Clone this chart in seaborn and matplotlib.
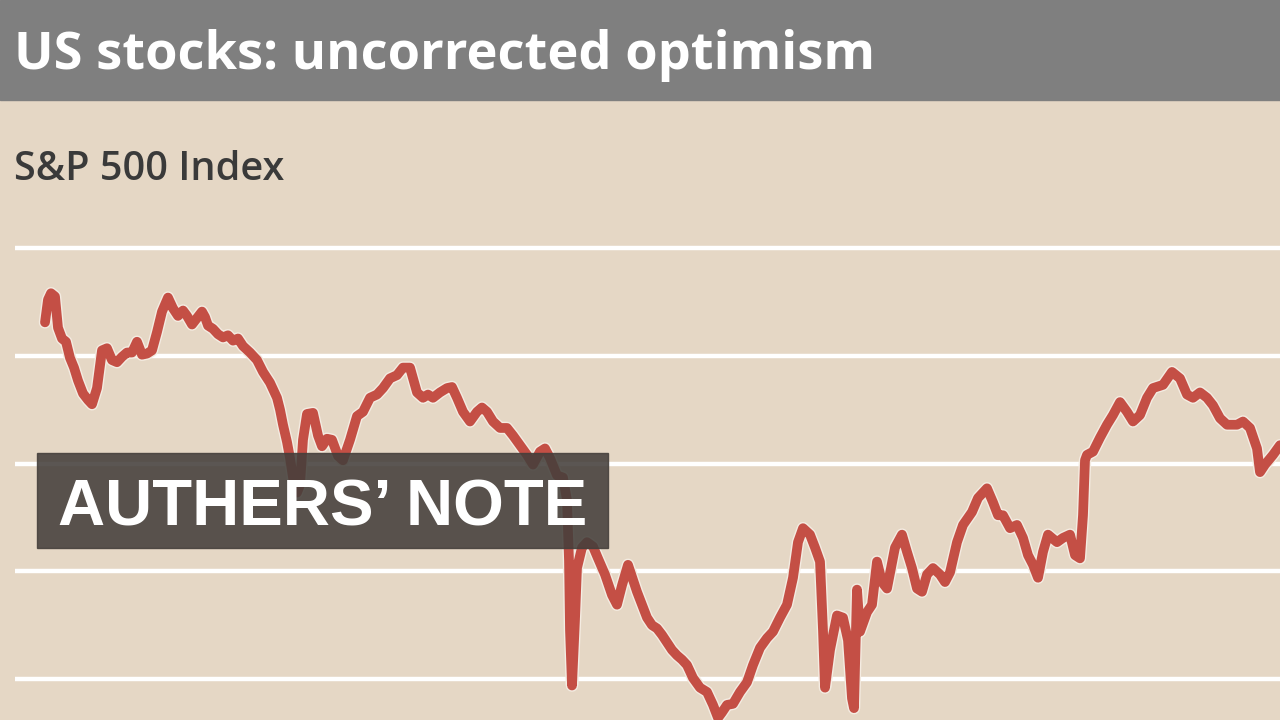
import matplotlib
matplotlib.use("Agg")
import matplotlib.pyplot as plt
import matplotlib.patheffects as pe
from matplotlib.patches import Rectangle
import seaborn as sns
import pandas as pd

# S&P 500 index level (trading-day offset, level)
days = [0, 1.2, 2.4, 4, 5.2, 6.8, 8.4, 10, 11.6, 13.2, 15.2, 17.2, 18.8, 20.8, 22.8,
        24.8, 26.8, 28.8, 30.8, 32.8, 34.8, 36.8, 38.8, 40.8, 42.8, 44.8, 46.8, 49.2,
        51.2, 53.2, 55.2, 56.8, 58.8, 60.8, 62.8, 64, 65.2, 67.2, 69.2, 71.2, 73.2,
        75.2, 77.2, 79.2, 82, 84.8, 87.2, 90, 92.8, 94, 95.2, 96.8, 98, 99.2, 100.8,
        102, 103.2, 104.8, 107.2, 109.2, 110.8, 112.8, 114.8, 117.2, 119.2, 122,
        124.8, 127.2, 130, 132.8, 135.2, 138, 140.8, 143.2, 146, 147.2, 148.8, 151.2,
        153.2, 155.2, 158, 160.8, 162.8, 164.8, 167.2, 170, 172.8, 174.8, 176.8,
        179.2, 182, 184.8, 187.2, 190, 192.8, 195.2, 198, 200, 202, 204.8, 207.2,
        208.8, 209.6, 210, 210.8, 212, 212.8, 214.8, 216.8, 219.2, 221.2, 224, 226.8,
        228.8, 230.8, 233.2, 235.2, 236.8, 238.8, 240.8, 242.8, 244.8, 246.8, 248.8,
        250.8, 252.8, 254.8, 256.8, 259.2, 262, 264.8, 267.2, 269.2, 270.8, 272.8,
        275.2, 278, 280.8, 283.2, 286, 288.8, 291.2, 294, 296.8, 299.2, 301.2, 303.2,
        306, 308, 310, 311.2, 312, 314, 316.8, 319.2, 321.2, 322.8, 323.6, 324.8, 326,
        328.8, 330.8, 332.8, 334.8, 336.8, 340, 342.8, 344.8, 346.8, 348.8, 350.8,
        352.8, 355.2, 358, 360, 362, 364.8, 367.2, 370.8, 373.2, 376.8, 379.2, 381.2,
        383.2, 386, 388.8, 391.2, 393.2, 395.2, 397.2, 399.2, 401.2, 404.8, 407.2,
        410, 412, 414, 415.2, 416, 416.8, 419.2, 422, 424.8, 427.2, 430, 432.8, 435.2,
        438, 440.8, 443.2, 447.2, 450.8, 454, 456.8, 459.2, 462, 464.8, 467.2, 470,
        472.8, 476.8, 479.2, 482, 484.8, 486, 488, 491.2, 494]

level = [2131, 2152, 2158, 2155, 2126, 2116, 2113, 2098, 2089, 2077, 2065, 2059, 2055,
         2070, 2105, 2107, 2096, 2094, 2099, 2103, 2103, 2113, 2101, 2102, 2105, 2122,
         2141, 2154, 2144, 2137, 2142, 2137, 2129, 2135, 2141, 2136, 2128, 2125, 2120,
         2117, 2119, 2114, 2116, 2109, 2103, 2096, 2085, 2075, 2061, 2050, 2036, 2020,
         2005, 1987, 1973, 1980, 2022, 2046, 2047, 2026, 2016, 2023, 2022, 2007, 2003,
         2022, 2044, 2048, 2061, 2064, 2070, 2079, 2082, 2089, 2089, 2079, 2066, 2061,
         2064, 2061, 2066, 2070, 2071, 2061, 2048, 2039, 2048, 2052, 2048, 2039, 2033,
         2033, 2026, 2017, 2008, 1999, 2011, 2014, 2005, 1989, 1987, 1966, 1910, 1845,
         1794, 1855, 1903, 1922, 1927, 1923, 1912, 1897, 1878, 1869, 1887, 1906, 1892,
         1881, 1869, 1857, 1850, 1847, 1841, 1834, 1827, 1822, 1818, 1813, 1801, 1792,
         1788, 1776, 1764, 1769, 1776, 1777, 1788, 1797, 1813, 1829, 1838, 1844, 1857,
         1869, 1894, 1927, 1940, 1934, 1922, 1909, 1845, 1792, 1827, 1859, 1857, 1836,
         1782, 1773, 1883, 1844, 1862, 1869, 1909, 1890, 1884, 1922, 1934, 1918, 1903,
         1884, 1881, 1897, 1903, 1897, 1890, 1899, 1927, 1943, 1955, 1968, 1977, 1964,
         1952, 1952, 1940, 1943, 1931, 1915, 1906, 1894, 1918, 1934, 1927, 1931, 1934,
         1915, 1912, 1952, 2003, 2008, 2011, 2024, 2036, 2045, 2057, 2048, 2039, 2045,
         2061, 2070, 2073, 2085, 2079, 2064, 2061, 2066, 2061, 2054, 2042, 2036, 2036,
         2039, 2033, 2014, 1992, 1999, 2008, 2017]

grid_levels = [1800, 1900, 2000, 2100, 2200]

title = "US stocks: uncorrected optimism"
subtitle = "S&P 500 Index"
badge = "AUTHERS\u2019 NOTE"

BG = "#e5d7c5"
RED = "#c44f45"

df = pd.DataFrame({"day": days, "level": level})

sns.set_style("white", {"axes.facecolor": BG, "figure.facecolor": BG})
plt.rcParams["font.family"] = ["Open Sans", "DejaVu Sans"]

fig = plt.figure(figsize=(12.8, 7.2), dpi=100)
ax = fig.add_axes([15 / 1280, 0, 1265 / 1280, 490 / 720])

sns.lineplot(data=df, x="day", y="level", ax=ax, color=RED, lw=7,
             path_effects=[pe.Stroke(linewidth=9, foreground="#f4ece2"), pe.Normal()])

ax.set_xlim(-12, 494)
ax.set_ylim(1762, 2216.7)
ax.set_yticks(grid_levels)
ax.grid(axis="y", color="white", lw=3.2)
ax.grid(axis="x", visible=False)
ax.set_axisbelow(True)
ax.tick_params(left=False, bottom=False, labelleft=False, labelbottom=False)
ax.set_xlabel("")
ax.set_ylabel("")
sns.despine(ax=ax, left=True, bottom=True)

# header bar
fig.add_artist(Rectangle((0, 1 - 100 / 720), 1, 100 / 720, transform=fig.transFigure,
                         color="#7f7f7f", zorder=5))
fig.text(14 / 1280, 1 - 69 / 720, title, color="white", fontsize=37.7,
         fontweight="bold", va="baseline", zorder=6)
fig.text(14 / 1280, 1 - 180 / 720, subtitle, color="#3a3a3a", fontsize=28.5,
         fontweight="semibold", va="baseline", zorder=6)

# overlay badge
fig.add_artist(Rectangle((37 / 1280, 1 - 548 / 720), 571 / 1280, 95 / 720,
                         transform=fig.transFigure, color="#443f3b", alpha=0.88, zorder=7))
fig.text(58 / 1280, 1 - 525 / 720, badge, color="white", fontsize=47,
         fontweight="bold", family=["Liberation Sans", "DejaVu Sans"],
         va="baseline", zorder=8)

fig.savefig("out.png", dpi=100, facecolor=BG)
